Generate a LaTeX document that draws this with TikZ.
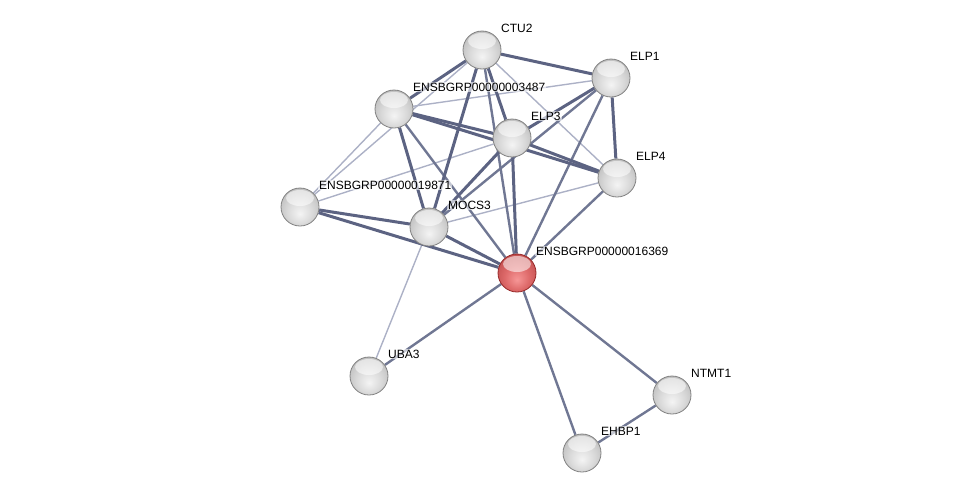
\documentclass[tikz,border=0pt]{standalone}
\usepackage{fontspec}
\setmainfont{Liberation Sans}
\usetikzlibrary{backgrounds}
\definecolor{edgedark}{RGB}{92,99,130}
\definecolor{edgemid}{RGB}{112,119,147}
\definecolor{edgelight}{RGB}{172,177,198}
\definecolor{greyhi}{RGB}{244,244,244}
\definecolor{greymid}{RGB}{218,218,218}
\definecolor{greylow}{RGB}{194,194,194}
\definecolor{greyrim}{RGB}{130,130,130}
\definecolor{redhi}{RGB}{246,150,150}
\definecolor{redmid}{RGB}{222,106,106}
\definecolor{redlow}{RGB}{198,84,84}
\definecolor{redrim}{RGB}{150,40,40}
\pgfdeclareradialshading{greysphere}{\pgfpoint{0bp}{-9bp}}{color(0bp)=(greyhi); color(16bp)=(greymid); color(28bp)=(greylow); color(34bp)=(greyrim); color(50bp)=(greyrim)}
\pgfdeclareradialshading{redsphere}{\pgfpoint{0bp}{-9bp}}{color(0bp)=(redhi); color(16bp)=(redmid); color(28bp)=(redlow); color(34bp)=(redrim); color(50bp)=(redrim)}
\tikzset{
  protein/.style={circle, minimum size=38pt, inner sep=0pt, shading=greysphere, draw=greyrim, line width=0.8pt,
    path picture={\fill[white, opacity=0.55] ([yshift=9pt]path picture bounding box.center) ellipse [x radius=14pt, y radius=8pt];}},
  query/.style={protein, shading=redsphere, draw=redrim},
  lab/.style={anchor=west, inner sep=1pt, fill=white, fill opacity=0.6, text opacity=1, font=\fontsize{12}{14}\selectfont},
  strong/.style={edgedark, line width=3pt},
  medium/.style={edgemid, line width=2.4pt},
  weak/.style={edgelight, line width=1.4pt}
}
\begin{document}
\begin{tikzpicture}[x=1pt,y=-1pt]
    \useasboundingbox (0,0) rectangle (976,498);
    % proteins
    \node[protein] (ctu) at (482,50) {};
    \node[protein] (elpa) at (611,78) {};
    \node[protein] (ens3487) at (394,109) {};
    \node[protein] (elpc) at (512,138) {};
    \node[protein] (elpd) at (617,178) {};
    \node[protein] (ens19871) at (300,207) {};
    \node[protein] (mocs) at (429,227) {};
    \node[query] (ens16369) at (517,273) {};
    \node[protein] (uba) at (369,376) {};
    \node[protein] (ntmt) at (672,395) {};
    \node[protein] (ehbp) at (582,453) {};
    % interactions
    \begin{scope}[on background layer]
    \draw[weak] (ctu) -- (elpd);
    \draw[weak] (ctu) -- (ens19871);
    \draw[weak] (ens3487) -- (ens19871);
    \draw[weak] (ens3487) -- (elpa);
    \draw[weak] (ens19871) -- (elpc);
    \draw[weak] (elpd) -- (mocs);
    \draw[weak] (mocs) -- (uba);
    \draw[medium] (ctu) -- (ens16369);
    \draw[medium] (ens3487) -- (ens16369);
    \draw[medium] (elpa) -- (mocs);
    \draw[medium] (elpa) -- (ens16369);
    \draw[medium] (elpd) -- (ens16369);
    \draw[medium] (ens16369) -- (uba);
    \draw[medium] (ens16369) -- (ntmt);
    \draw[medium] (ens16369) -- (ehbp);
    \draw[medium] (ntmt) -- (ehbp);
    \draw[strong] (ctu) -- (elpa);
    \draw[strong] (ctu) -- (ens3487);
    \draw[strong] (ctu) -- (elpc);
    \draw[strong] (ctu) -- (mocs);
    \draw[strong] (elpa) -- (elpc);
    \draw[strong] (elpa) -- (elpd);
    \draw[strong] (ens3487) -- (elpc);
    \draw[strong] (ens3487) -- (elpd);
    \draw[strong] (ens3487) -- (mocs);
    \draw[strong] (elpc) -- (elpd);
    \draw[strong] (elpc) -- (mocs);
    \draw[strong] (elpc) -- (ens16369);
    \draw[strong] (ens19871) -- (mocs);
    \draw[strong] (ens19871) -- (ens16369);
    \draw[strong] (mocs) -- (ens16369);
    \end{scope}
    % labels
    \node[lab] at ([shift={(18,-22)}]ctu) {CTU2};
    \node[lab] at ([shift={(18,-22)}]elpa) {ELP1};
    \node[lab] at ([shift={(18,-22)}]ens3487) {ENSBGRP00000003487};
    \node[lab] at ([shift={(18,-22)}]elpc) {ELP3};
    \node[lab] at ([shift={(18,-22)}]elpd) {ELP4};
    \node[lab] at ([shift={(18,-22)}]ens19871) {ENSBGRP00000019871};
    \node[lab] at ([shift={(18,-22)}]mocs) {MOCS3};
    \node[lab] at ([shift={(18,-22)}]ens16369) {ENSBGRP00000016369};
    \node[lab] at ([shift={(18,-22)}]uba) {UBA3};
    \node[lab] at ([shift={(18,-22)}]ntmt) {NTMT1};
    \node[lab] at ([shift={(18,-22)}]ehbp) {EHBP1};
\end{tikzpicture}
\end{document}
